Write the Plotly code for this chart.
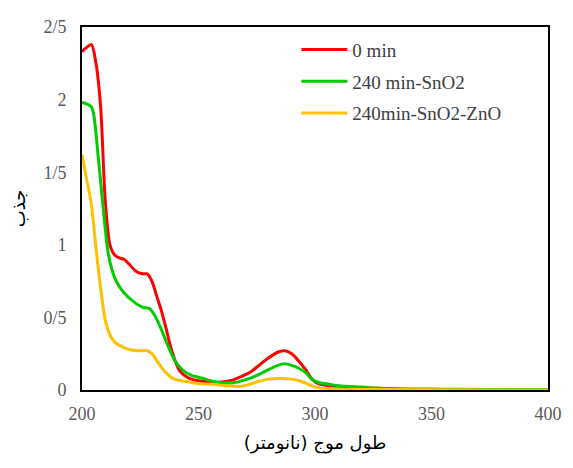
import plotly.graph_objects as go

wl_red = [200, 202, 204, 206, 208, 210, 212, 214, 216, 218, 220, 223, 226, 228, 230, 232, 234, 236, 238, 240, 242, 245, 248, 252, 256, 260, 264, 268, 272, 276, 280, 284, 287, 290, 293, 296, 299, 302, 306, 310, 320, 330, 340, 350, 360, 380, 400]
abs_red = [2.33, 2.36, 2.38, 2.25, 1.95, 1.3, 1.0, 0.93, 0.91, 0.9, 0.87, 0.82, 0.8, 0.8, 0.75, 0.65, 0.55, 0.43, 0.3, 0.2, 0.13, 0.09, 0.07, 0.06, 0.05, 0.055, 0.065, 0.09, 0.12, 0.17, 0.22, 0.26, 0.27, 0.25, 0.2, 0.14, 0.07, 0.04, 0.03, 0.025, 0.015, 0.01, 0.005, 0.005, 0.003, 0.002, 0.0]

wl_green = [200, 202, 204, 205, 207, 209, 211, 213, 215, 218, 222, 226, 229, 231, 234, 237, 240, 243, 247, 252, 256, 260, 265, 270, 275, 280, 284, 287, 290, 293, 296, 299, 302, 306, 310, 320, 330, 340, 350, 370, 400]
abs_green = [1.98, 1.97, 1.95, 1.9, 1.6, 1.27, 0.97, 0.82, 0.74, 0.67, 0.61, 0.57, 0.56, 0.52, 0.42, 0.3, 0.2, 0.14, 0.1, 0.08, 0.06, 0.05, 0.05, 0.07, 0.1, 0.14, 0.17, 0.18, 0.17, 0.15, 0.12, 0.07, 0.05, 0.04, 0.03, 0.02, 0.01, 0.007, 0.005, 0.004, 0.001]

wl_yellow = [200, 202, 204, 206, 208, 210, 212, 214, 217, 220, 224, 228, 230, 233, 236, 239, 242, 246, 250, 256, 262, 268, 272, 276, 280, 285, 290, 294, 297, 300, 305, 310, 330, 400]
abs_yellow = [1.62, 1.45, 1.28, 0.98, 0.7, 0.48, 0.38, 0.33, 0.3, 0.28, 0.27, 0.27, 0.25, 0.18, 0.12, 0.08, 0.065, 0.055, 0.045, 0.04, 0.03, 0.025, 0.04, 0.06, 0.075, 0.08, 0.075, 0.06, 0.04, 0.02, 0.01, 0.005, 0.003, 0.0]

names = ["0 min", "240 min-SnO2", "240min-SnO2-ZnO"]
colors = ["#FF0000", "#00CC00", "#FFC000"]

y_ticks = [0, 0.5, 1, 1.5, 2, 2.5]
y_ticktext = ["0", "0/5", "1", "1/5", "2", "2/5"]
x_ticks = [200, 250, 300, 350, 400]

fig = go.Figure()
for x, y, n, c in [(wl_red, abs_red, names[0], colors[0]),
                   (wl_green, abs_green, names[1], colors[1]),
                   (wl_yellow, abs_yellow, names[2], colors[2])]:
    fig.add_trace(go.Scatter(x=x, y=y, name=n, mode="lines", legendgroup=n,
                             line=dict(color=c, width=3, shape="spline", smoothing=0.8)))

fig.update_layout(
    width=565, height=460,
    margin=dict(l=68, r=25, t=9, b=78),
    plot_bgcolor="white", paper_bgcolor="white",
    font=dict(family="Liberation Serif", size=18, color="#595959"),
    legend=dict(x=0.46, y=0.99, xanchor="left", yanchor="top",
                font=dict(family="Liberation Serif", size=19, color="#404040"),
                bgcolor="rgba(0,0,0,0)", tracegroupgap=4, itemwidth=46),
    xaxis=dict(range=[200, 400], tickvals=x_ticks, showgrid=False, zeroline=False,
               showline=True, linecolor="black", linewidth=2, mirror=True, ticks="",
               ticklabelstandoff=6,
               title=dict(text="طول موج (نانومتر)", font=dict(family="DejaVu Sans", size=18, color="black"), standoff=14)),
    yaxis=dict(range=[0, 2.5], tickvals=y_ticks, ticktext=y_ticktext, showgrid=False, zeroline=False,
               showline=True, linecolor="black", linewidth=2, mirror=True, ticks="",
               ticklabelstandoff=10,
               title=dict(text="جذب", font=dict(family="DejaVu Sans", size=18, color="black"), standoff=14)),
)

fig.write_html("out.html")
